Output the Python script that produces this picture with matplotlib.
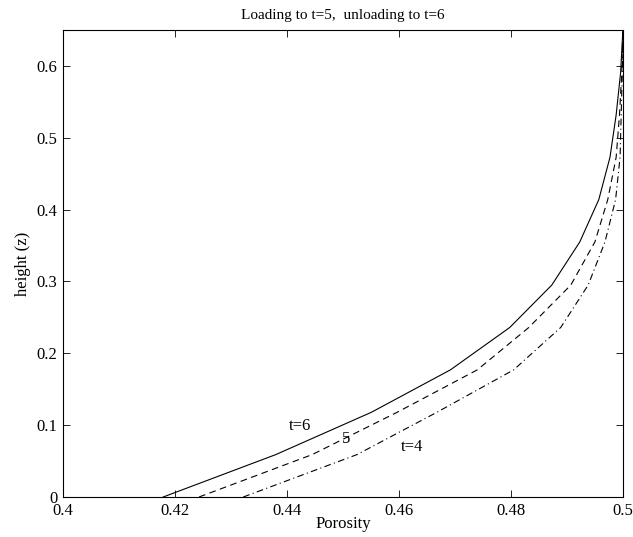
import matplotlib
matplotlib.use("Agg")
import matplotlib.pyplot as plt
from matplotlib.ticker import FixedLocator, FixedFormatter

# Height grid (z) and porosity profiles at three times
height = [0.0, 0.059, 0.118, 0.177, 0.236, 0.295, 0.355, 0.414, 0.473, 0.532, 0.591, 0.65]
porosity_t6 = [0.4179, 0.4380, 0.4551, 0.4692, 0.4798, 0.4873, 0.4923, 0.4957, 0.4977, 0.4988, 0.4996, 0.5]
porosity_t5 = [0.4243, 0.4445, 0.4597, 0.4740, 0.4832, 0.4907, 0.4950, 0.4973, 0.4988, 0.4994, 0.4998, 0.5]
porosity_t4 = [0.4322, 0.4525, 0.4668, 0.4805, 0.4889, 0.4938, 0.4968, 0.4987, 0.4995, 0.4997, 0.4999, 0.5]

xticks = [0.4, 0.42, 0.44, 0.46, 0.48, 0.5]
xtick_labels = ["0.4", "0.42", "0.44", "0.46", "0.48", "0.5"]
yticks = [0, 0.1, 0.2, 0.3, 0.4, 0.5, 0.6]
ytick_labels = ["0", "0.1", "0.2", "0.3", "0.4", "0.5", "0.6"]

plt.rcParams["font.family"] = ["Liberation Serif", "DejaVu Serif"]

fig = plt.figure(figsize=(6.33, 5.37), dpi=100)
ax = fig.add_axes([0.0995, 0.0745, 0.8845, 0.8695])

ax.plot(porosity_t6, height, color="black", lw=0.8, linestyle="-")
ax.plot(porosity_t5, height, color="black", lw=0.8, linestyle=(0, (6, 4)))
ax.plot(porosity_t4, height, color="black", lw=0.8, linestyle=(0, (6, 3, 1, 3)))

ax.set_xlim(0.4, 0.5)
ax.set_ylim(0, 0.65)
ax.xaxis.set_major_locator(FixedLocator(xticks))
ax.xaxis.set_major_formatter(FixedFormatter(xtick_labels))
ax.yaxis.set_major_locator(FixedLocator(yticks))
ax.yaxis.set_major_formatter(FixedFormatter(ytick_labels))
ax.tick_params(direction="in", length=5, width=0.6, top=True, right=True,
               labelsize=12)
ax.tick_params(axis="x", pad=4)
ax.tick_params(axis="y", pad=4)
for s in ax.spines.values():
    s.set_linewidth(0.8)

ax.text(0.4423, 0.099, "t=6", fontsize=12, ha="center", va="center")
ax.text(0.4505, 0.0806, "5", fontsize=12, ha="center", va="center")
ax.text(0.4623, 0.069, "t=4", fontsize=12, ha="center", va="center")

ax.set_xlabel("Porosity", fontsize=12, labelpad=-2)
ax.set_ylabel("height (z)", fontsize=12, labelpad=4)
ax.set_title("Loading to t=5,  unloading to t=6", fontsize=11, pad=8)

fig.savefig("out.png", dpi=100)
